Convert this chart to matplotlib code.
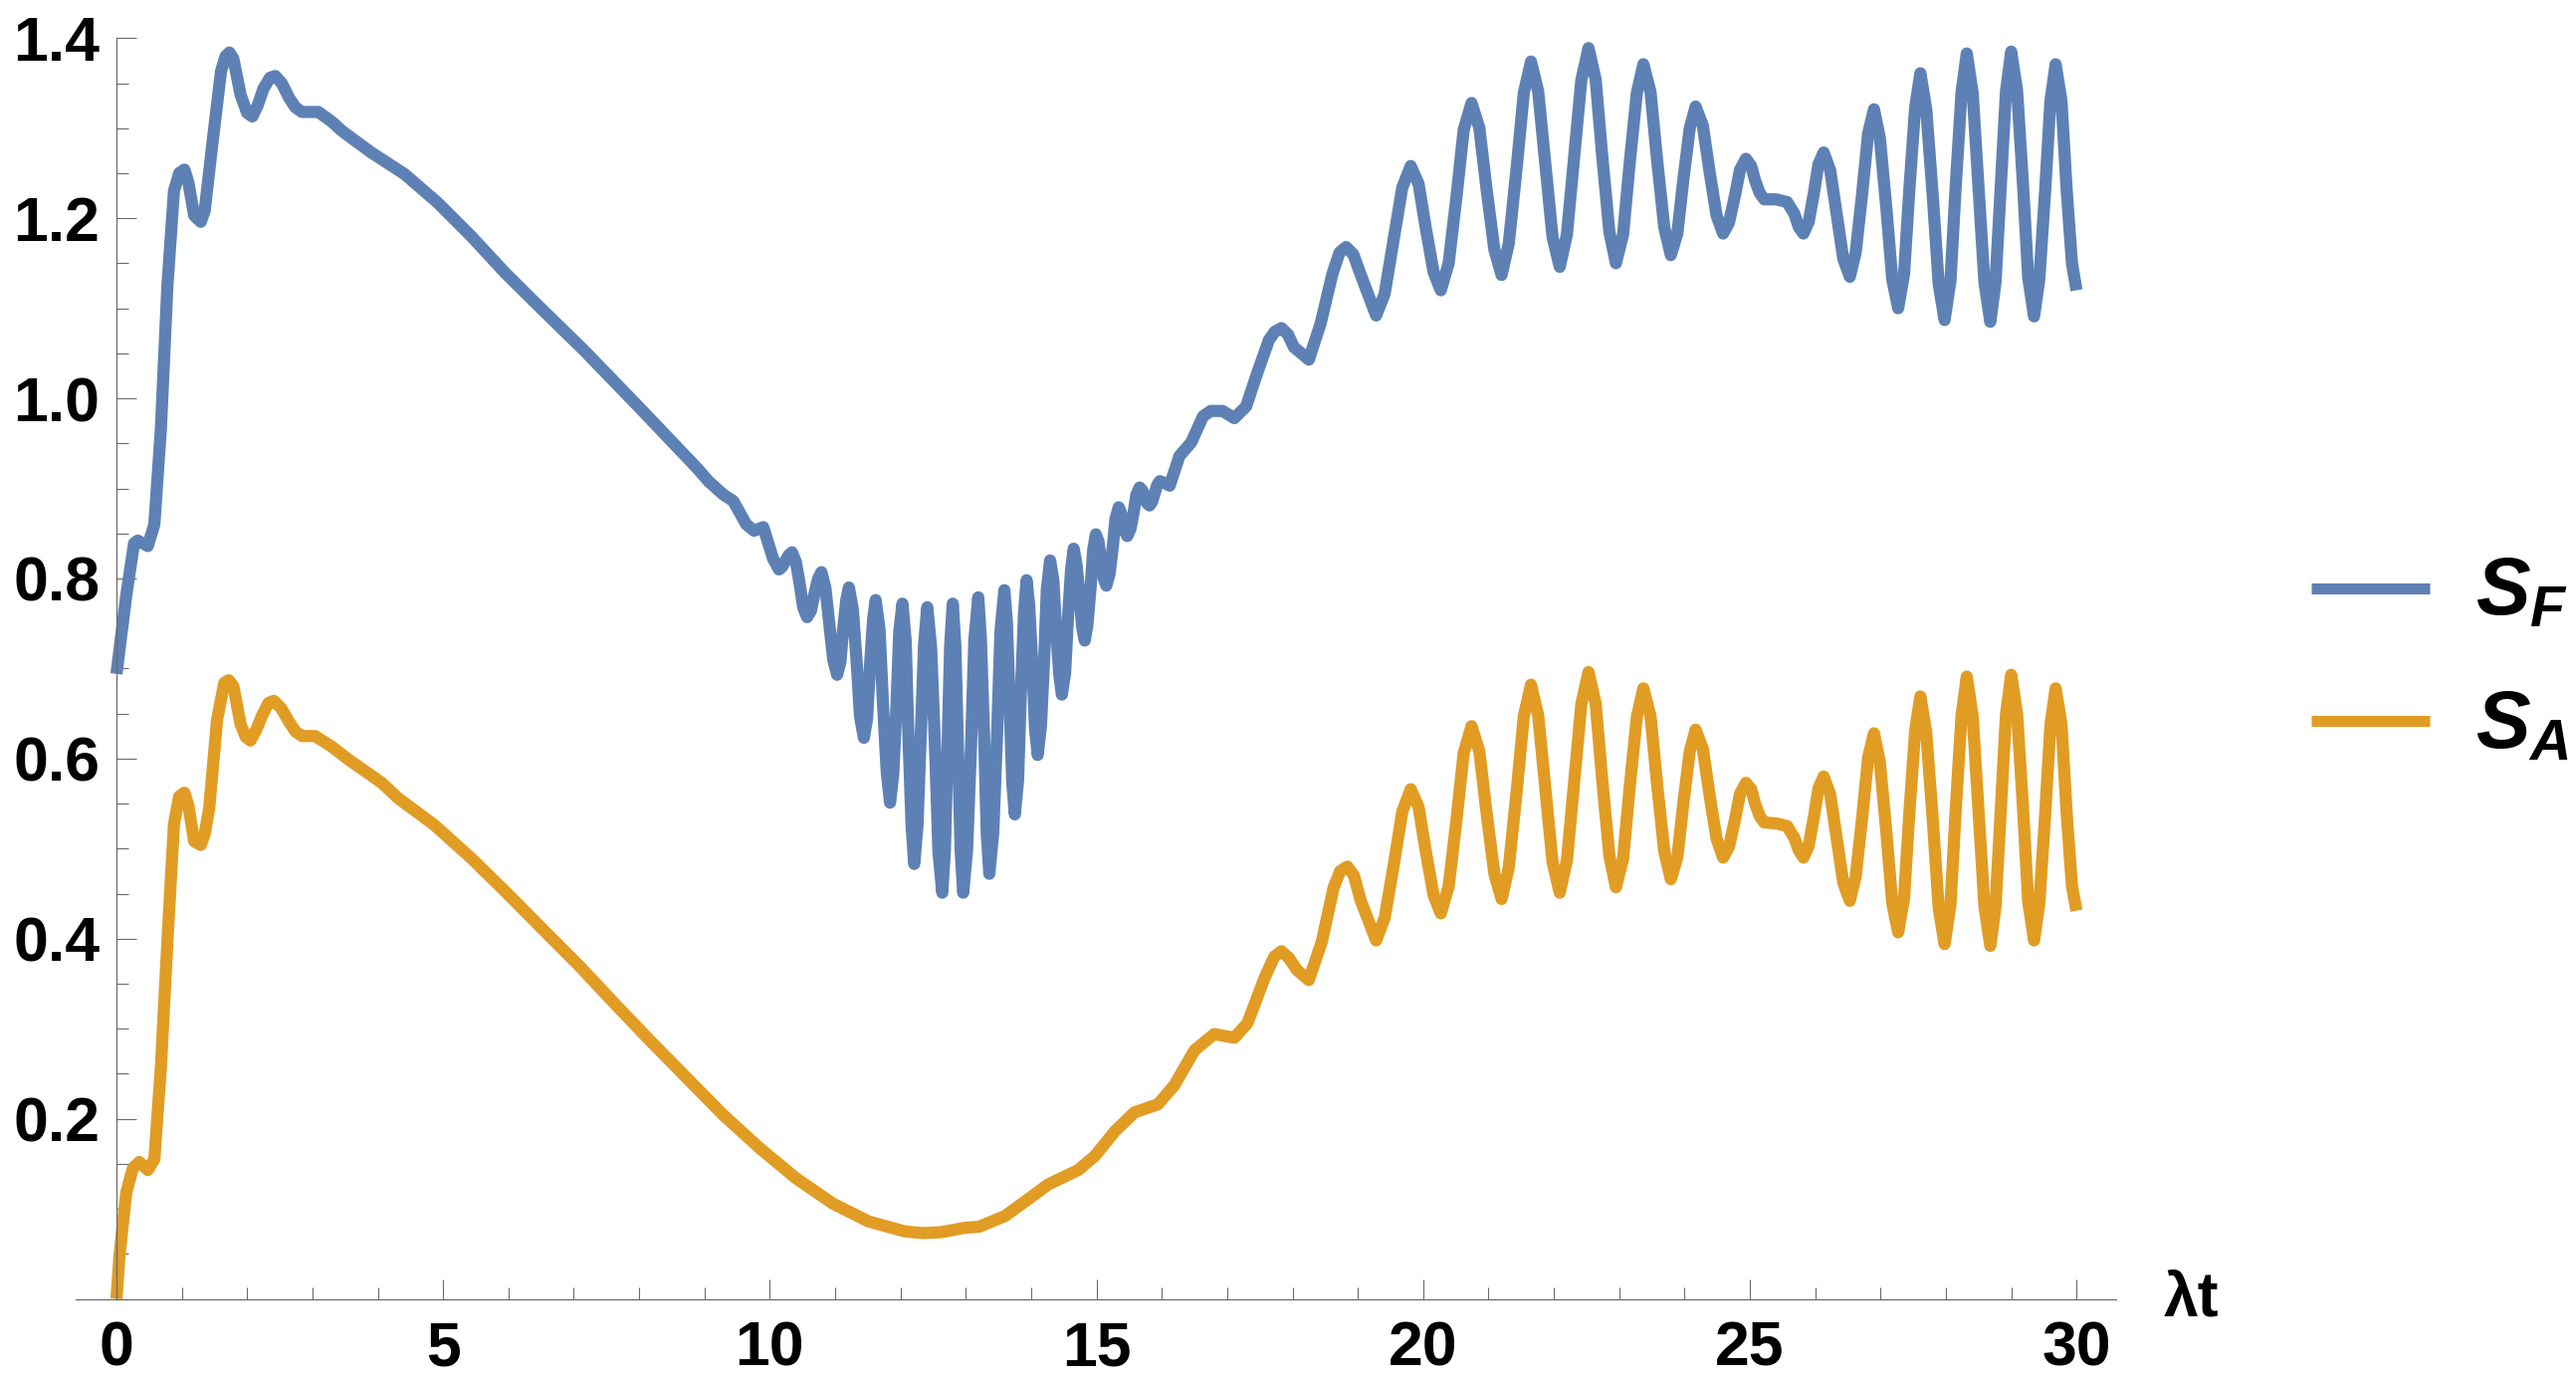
import matplotlib
matplotlib.use("Agg")
import matplotlib.pyplot as plt
from matplotlib.ticker import FixedLocator, MultipleLocator, FixedFormatter
from matplotlib.lines import Line2D

plt.rcParams['font.family'] = ['Liberation Sans', 'DejaVu Sans']
plt.rcParams['mathtext.fontset'] = 'custom'
plt.rcParams['mathtext.it'] = 'Liberation Sans:italic:bold'
plt.rcParams['mathtext.rm'] = 'Liberation Sans:bold'

# ---------------- data: (lambda t, value) ----------------
sf_points = [
    (0.0, 0.694), (0.15, 0.781), (0.27, 0.839), (0.325, 0.842), (0.48, 0.836), (0.58, 0.86),
    (0.68, 0.966), (0.78, 1.125), (0.88, 1.23), (0.96, 1.250), (1.04, 1.254), (1.1, 1.24),
    (1.19, 1.203), (1.29, 1.196), (1.35, 1.208), (1.47, 1.284), (1.6, 1.363), (1.67, 1.38),
    (1.73, 1.384), (1.79, 1.377), (1.9, 1.337), (2.0, 1.317), (2.08, 1.313), (2.16, 1.325),
    (2.25, 1.344), (2.35, 1.356), (2.43, 1.358), (2.53, 1.35), (2.64, 1.334), (2.74, 1.323),
    (2.84, 1.318), (3.09, 1.318), (3.3, 1.307), (3.45, 1.297), (3.9, 1.273), (4.41, 1.249),
    (4.92, 1.217), (5.43, 1.18), (5.94, 1.14), (6.44, 1.104), (7.16, 1.053), (8.0, 0.99),
    (8.88, 0.923), (9.06, 0.908), (9.29, 0.893), (9.44, 0.886), (9.64, 0.86), (9.76, 0.853),
    (9.9, 0.857), (10.05, 0.822), (10.14, 0.81),
    (10.19, 0.813), (10.24, 0.8195), (10.29, 0.826), (10.34, 0.829),
    (10.40, 0.818), (10.46, 0.793), (10.51, 0.768), (10.57, 0.757),
    (10.63, 0.764), (10.68, 0.782), (10.74, 0.800), (10.79, 0.807),
    (10.85, 0.790), (10.91, 0.75), (10.97, 0.710), (11.03, 0.693),
    (11.08, 0.707), (11.12, 0.7415), (11.17, 0.776), (11.21, 0.79),
    (11.27, 0.766), (11.33, 0.7065), (11.38, 0.647), (11.44, 0.623),
    (11.49, 0.645), (11.53, 0.6995), (11.58, 0.754), (11.62, 0.776),
    (11.68, 0.743), (11.73, 0.6635), (11.79, 0.584), (11.84, 0.551),
    (11.89, 0.583), (11.94, 0.6615), (11.98, 0.740), (12.03, 0.772),
    (12.08, 0.730), (12.12, 0.6275), (12.17, 0.525), (12.21, 0.483),
    (12.26, 0.525), (12.31, 0.6255), (12.36, 0.726), (12.41, 0.768),
    (12.47, 0.722), (12.53, 0.6095), (12.58, 0.497), (12.64, 0.451),
    (12.68, 0.498), (12.72, 0.6115), (12.76, 0.725), (12.8, 0.772),
    (12.84, 0.725), (12.88, 0.6115), (12.92, 0.498), (12.96, 0.451),
    (13.02, 0.499), (13.08, 0.615), (13.13, 0.731), (13.19, 0.779),
    (13.23, 0.734), (13.28, 0.6255), (13.32, 0.517), (13.36, 0.472),
    (13.42, 0.518), (13.48, 0.6295), (13.53, 0.741), (13.59, 0.787),
    (13.63, 0.751), (13.67, 0.6625), (13.71, 0.574), (13.75, 0.538),
    (13.80, 0.576), (13.84, 0.668), (13.89, 0.760), (13.93, 0.798),
    (13.97, 0.770), (14.02, 0.701), (14.06, 0.632), (14.1, 0.604),
    (14.15, 0.636), (14.20, 0.712), (14.24, 0.788), (14.29, 0.82),
    (14.34, 0.798), (14.38, 0.7455), (14.43, 0.693), (14.47, 0.671),
    (14.52, 0.695), (14.56, 0.752), (14.61, 0.809), (14.65, 0.833),
    (14.69, 0.818), (14.74, 0.782), (14.78, 0.746), (14.82, 0.731),
    (14.86, 0.748), (14.91, 0.79), (14.95, 0.832), (14.99, 0.849),
    (15.03, 0.841), (15.07, 0.8205), (15.11, 0.800), (15.15, 0.792),
    (15.20, 0.805), (15.25, 0.8355), (15.29, 0.866), (15.34, 0.879),
    (15.37, 0.874), (15.41, 0.863), (15.44, 0.852), (15.47, 0.847),
    (15.52, 0.855), (15.57, 0.874), (15.61, 0.893), (15.66, 0.901),
    (15.70, 0.898), (15.74, 0.891), (15.77, 0.884), (15.81, 0.881),
    (15.85, 0.885), (15.89, 0.8945), (15.93, 0.904), (15.97, 0.908),
    (16.045, 0.906), (16.12, 0.903), (16.27, 0.936), (16.45, 0.951), (16.63, 0.98),
    (16.75, 0.986), (16.93, 0.986), (17.11, 0.978), (17.29, 0.991), (17.46, 1.028),
    (17.64, 1.065), (17.73, 1.074), (17.83, 1.078), (17.93, 1.071), (18.02, 1.057),
    (18.25, 1.043), (18.43, 1.083), (18.61, 1.138), (18.72, 1.162), (18.82, 1.168),
    (18.93, 1.16), (19.04, 1.138), (19.28, 1.092),
    (19.41, 1.116), (19.545, 1.175), (19.68, 1.234), (19.81, 1.258),
    (19.93, 1.238), (20.04, 1.189), (20.16, 1.140), (20.27, 1.12),
    (20.39, 1.150), (20.51, 1.224), (20.62, 1.298), (20.74, 1.328),
    (20.86, 1.300), (20.97, 1.2325), (21.09, 1.165), (21.2, 1.137),
    (21.31, 1.172), (21.43, 1.2555), (21.54, 1.339), (21.65, 1.374),
    (21.76, 1.341), (21.87, 1.26), (21.98, 1.179), (22.09, 1.146),
    (22.2, 1.182), (22.31, 1.2675), (22.42, 1.353), (22.53, 1.389),
    (22.64, 1.354), (22.74, 1.2695), (22.85, 1.185), (22.95, 1.15),
    (23.06, 1.182), (23.16, 1.2605), (23.27, 1.339), (23.37, 1.371),
    (23.48, 1.340), (23.58, 1.265), (23.69, 1.190), (23.79, 1.159),
    (23.89, 1.183), (23.98, 1.2415), (24.08, 1.300), (24.17, 1.324),
    (24.28, 1.303), (24.38, 1.2535), (24.49, 1.203), (24.59, 1.183),
    (24.68, 1.195), (24.77, 1.2245), (24.85, 1.254), (24.94, 1.266),
    (25.02, 1.258), (25.08, 1.242), (25.15, 1.228), (25.22, 1.221), (25.4, 1.221),
    (25.57, 1.218), (25.68, 1.205), (25.75, 1.19), (25.82, 1.183),
    (25.90, 1.196), (25.98, 1.228), (26.05, 1.260), (26.13, 1.273),
    (26.23, 1.253), (26.33, 1.204), (26.43, 1.155), (26.53, 1.135),
    (26.62, 1.162), (26.72, 1.228), (26.81, 1.294), (26.9, 1.321),
    (26.99, 1.289), (27.09, 1.2105), (27.18, 1.132), (27.27, 1.1),
    (27.36, 1.138), (27.44, 1.2305), (27.53, 1.323), (27.61, 1.361),
    (27.70, 1.321), (27.80, 1.224), (27.89, 1.127), (27.98, 1.087),
    (28.07, 1.130), (28.15, 1.235), (28.24, 1.340), (28.32, 1.383),
    (28.41, 1.339), (28.5, 1.234), (28.59, 1.129), (28.68, 1.085),
    (28.76, 1.129), (28.84, 1.235), (28.92, 1.341), (29.0, 1.385),
    (29.09, 1.342), (29.18, 1.238), (29.26, 1.134), (29.35, 1.091),
    (29.43, 1.132), (29.52, 1.231), (29.60, 1.330), (29.68, 1.371),
    (29.77, 1.330), (29.85, 1.23), (29.93, 1.15), (30.0, 1.12),
]

sa_points = [
    (0.0, 0.0), (0.046, 0.048), (0.15, 0.118), (0.25, 0.145), (0.35, 0.152), (0.48, 0.143),
    (0.58, 0.155), (0.68, 0.257), (0.78, 0.397), (0.88, 0.527), (0.96, 0.558), (1.04, 0.562),
    (1.1, 0.548), (1.19, 0.508), (1.29, 0.504), (1.35, 0.516), (1.42, 0.545), (1.54, 0.643),
    (1.65, 0.684), (1.72, 0.687), (1.79, 0.68), (1.9, 0.638), (1.98, 0.624), (2.05, 0.62),
    (2.14, 0.632), (2.23, 0.648), (2.33, 0.662), (2.41, 0.664), (2.52, 0.656), (2.64, 0.641),
    (2.74, 0.63), (2.84, 0.625), (3.04, 0.625), (3.3, 0.613), (3.55, 0.599), (4.06, 0.573),
    (4.31, 0.556), (4.86, 0.5265), (5.42, 0.49), (5.97, 0.451), (6.53, 0.41), (7.08, 0.37),
    (7.63, 0.3275), (8.19, 0.285), (8.74, 0.2445), (9.29, 0.204), (9.85, 0.167),
    (10.4, 0.134), (10.96, 0.106), (11.51, 0.086), (12.06, 0.075), (12.34, 0.073),
    (12.62, 0.074), (12.99, 0.079), (13.2, 0.08), (13.6, 0.092), (13.96, 0.111),
    (14.26, 0.127), (14.72, 0.143), (14.98, 0.159), (15.28, 0.186), (15.58, 0.207),
    (15.94, 0.216), (16.19, 0.237), (16.5, 0.276), (16.8, 0.294), (17.11, 0.29),
    (17.31, 0.306), (17.57, 0.356), (17.72, 0.38), (17.83, 0.386), (17.94, 0.379),
    (18.07, 0.365), (18.25, 0.354), (18.45, 0.397), (18.63, 0.457), (18.73, 0.475),
    (18.84, 0.48), (18.94, 0.47), (19.04, 0.443), (19.28, 0.398),
    (19.41, 0.423), (19.55, 0.482), (19.68, 0.541), (19.81, 0.566),
    (19.93, 0.546), (20.04, 0.497), (20.16, 0.448), (20.27, 0.428),
    (20.39, 0.458), (20.51, 0.532), (20.62, 0.606), (20.74, 0.636),
    (20.86, 0.608), (20.97, 0.54), (21.09, 0.472), (21.2, 0.444),
    (21.31, 0.479), (21.43, 0.563), (21.54, 0.647), (21.65, 0.682),
    (21.76, 0.648), (21.87, 0.5665), (21.98, 0.485), (22.09, 0.451),
    (22.2, 0.487), (22.31, 0.5735), (22.42, 0.660), (22.53, 0.696),
    (22.64, 0.661), (22.74, 0.5765), (22.85, 0.492), (22.95, 0.457),
    (23.06, 0.489), (23.16, 0.5675), (23.27, 0.646), (23.37, 0.678),
    (23.48, 0.647), (23.58, 0.572), (23.69, 0.497), (23.79, 0.466),
    (23.89, 0.490), (23.98, 0.549), (24.08, 0.608), (24.17, 0.632),
    (24.28, 0.611), (24.38, 0.561), (24.49, 0.511), (24.59, 0.49),
    (24.68, 0.502), (24.77, 0.5315), (24.85, 0.561), (24.94, 0.573),
    (25.02, 0.566), (25.08, 0.550), (25.15, 0.536), (25.22, 0.529), (25.4, 0.528),
    (25.57, 0.525), (25.68, 0.512), (25.75, 0.498), (25.82, 0.49),
    (25.90, 0.503), (25.98, 0.535), (26.05, 0.567), (26.13, 0.58),
    (26.23, 0.560), (26.33, 0.511), (26.43, 0.462), (26.53, 0.442),
    (26.62, 0.469), (26.72, 0.535), (26.81, 0.601), (26.9, 0.628),
    (26.99, 0.596), (27.09, 0.5175), (27.18, 0.439), (27.27, 0.407),
    (27.36, 0.445), (27.44, 0.538), (27.53, 0.631), (27.61, 0.669),
    (27.70, 0.629), (27.80, 0.5315), (27.89, 0.434), (27.98, 0.394),
    (28.07, 0.437), (28.15, 0.5425), (28.24, 0.648), (28.32, 0.691),
    (28.41, 0.647), (28.5, 0.5415), (28.59, 0.436), (28.68, 0.392),
    (28.76, 0.436), (28.84, 0.5425), (28.92, 0.649), (29.0, 0.693),
    (29.09, 0.650), (29.18, 0.5455), (29.26, 0.441), (29.35, 0.398),
    (29.43, 0.439), (29.52, 0.538), (29.60, 0.637), (29.68, 0.678),
    (29.77, 0.638), (29.85, 0.538), (29.93, 0.458), (30.0, 0.431),
]

x_major = [0, 5, 10, 15, 20, 25, 30]
x_labels = ['0', '5', '10', '15', '20', '25', '30']
y_major = [0.2, 0.4, 0.6, 0.8, 1.0, 1.2, 1.4]
y_labels = ['0.2', '0.4', '0.6', '0.8', '1.0', '1.2', '1.4']
series_names = [r'$S_F$', r'$S_A$']
colors = ['#5E81B5', '#E19C24']
axis_label = 'λt'

sf_t, sf_v = zip(*sf_points)
sa_t, sa_v = zip(*sa_points)

# ---------------- figure ----------------
W, H = 2588, 1385
fig = plt.figure(figsize=(W / 100, H / 100), dpi=100)
ax = fig.add_axes([76.3 / W, 1 - 1304.5 / H, (2125.6 - 76.3) / W, (1304.5 - 38.3) / H])

lw = 8.8
ax.plot(sf_t, sf_v, color=colors[0], lw=lw, solid_joinstyle='round', solid_capstyle='butt')
ax.plot(sa_t, sa_v, color=colors[1], lw=lw, solid_joinstyle='round', solid_capstyle='butt')

ax.set_xlim(-0.62, 30.6)
ax.set_ylim(0, 1.4)

axcol = '#6b6b6b'
for s in ['top', 'right']:
    ax.spines[s].set_visible(False)
ax.spines['left'].set_position(('data', 0))
for s in ['left', 'bottom']:
    ax.spines[s].set_color(axcol)
    ax.spines[s].set_linewidth(0.9)

ax.xaxis.set_major_locator(FixedLocator(x_major))
ax.xaxis.set_major_formatter(FixedFormatter(x_labels))
ax.xaxis.set_minor_locator(MultipleLocator(1))
ax.yaxis.set_major_locator(FixedLocator(y_major))
ax.yaxis.set_major_formatter(FixedFormatter(y_labels))
ax.yaxis.set_minor_locator(MultipleLocator(0.05))

ax.tick_params(which='major', direction='in', length=14.4, width=0.8, color=axcol,
               labelsize=45, labelcolor='black')
ax.tick_params(which='minor', direction='in', length=8.6, width=0.8, color=axcol)
ax.tick_params(axis='x', which='major', pad=15)
ax.tick_params(axis='y', which='major', pad=12)
for lab in ax.get_xticklabels() + ax.get_yticklabels():
    lab.set_fontweight('bold')

fig.text(2174 / W, 1 - 1322 / H, axis_label, fontsize=45, fontweight='bold',
         ha='left', va='baseline')

# legend drawn manually
leg_y = [590.7, 724.3]
base_y = [617, 750.7]
for i in range(2):
    fig.add_artist(Line2D([2322 / W, 2441 / W], [1 - leg_y[i] / H, 1 - leg_y[i] / H],
                          transform=fig.transFigure, color=colors[i], lw=8,
                          solid_capstyle='butt'))
    fig.text(2487 / W, 1 - base_y[i] / H, series_names[i], fontsize=59,
             ha='left', va='baseline')

fig.savefig('out.png', dpi=100)
